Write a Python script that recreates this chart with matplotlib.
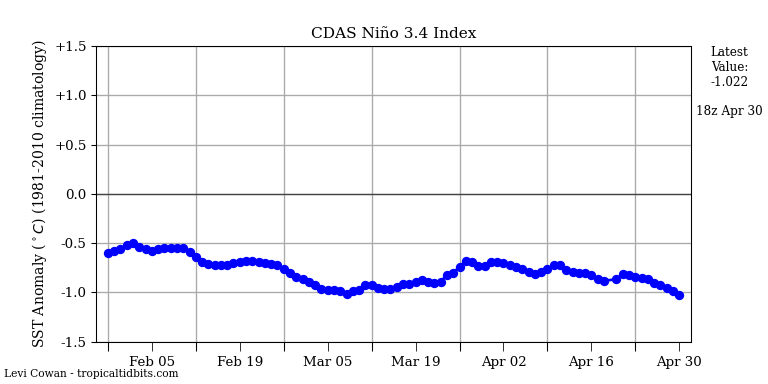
import datetime as dt
import matplotlib
matplotlib.use('Agg')
import matplotlib.pyplot as plt
import matplotlib.dates as mdates
from matplotlib.ticker import FixedLocator, NullFormatter

plt.rcParams['font.family'] = 'DejaVu Serif'

# daily CDAS Nino 3.4 values, Jan 29 - Apr 30 (Apr 19 missing)
start = dt.datetime(2022, 1, 29)
missing_day = 80
values = [
    -0.60, -0.58, -0.56, -0.52, -0.50, -0.54, -0.56, -0.575, -0.56, -0.55,
    -0.55, -0.55, -0.545, -0.59, -0.635, -0.687, -0.71, -0.72, -0.72, -0.72,
    -0.70, -0.69, -0.68, -0.68, -0.69, -0.70, -0.71, -0.72, -0.765, -0.806,
    -0.84, -0.867, -0.89, -0.925, -0.96, -0.976, -0.976, -0.99, -1.017, -0.99,
    -0.97, -0.92, -0.92, -0.95, -0.96, -0.96, -0.94, -0.91, -0.91, -0.89,
    -0.875, -0.89, -0.90, -0.89, -0.82, -0.80, -0.74, -0.68, -0.69, -0.73,
    -0.73, -0.69, -0.69, -0.70, -0.72, -0.74, -0.765, -0.79, -0.81, -0.79,
    -0.765, -0.72, -0.72, -0.77, -0.79, -0.806, -0.80, -0.82, -0.867, -0.88,
    -0.867, -0.81, -0.82, -0.84, -0.85, -0.867, -0.90, -0.92, -0.95, -0.99,
    -1.022,
]
days = [d for d in range(92) if d != missing_day]
dates = [start + dt.timedelta(days=d) for d in days]

ytick_vals = [1.5, 1.0, 0.5, 0.0, -0.5, -1.0, -1.5]
ytick_labels = ['+1.5', '+1.0', '+0.5', '0.0', '-0.5', '-1.0', '-1.5']

fig = plt.figure(figsize=(8, 4), dpi=96)
ax = fig.add_subplot(111)

ax.plot(dates, values, 'o-', color='blue', markersize=6, linewidth=2, zorder=3)
ax.axhline(0, color='#444444', linewidth=1, zorder=2)

ax.set_ylim(-1.5, 1.5)
ax.set_yticks(ytick_vals)
ax.set_yticklabels(ytick_labels)
ax.set_xlim(start - dt.timedelta(days=1.9), start + dt.timedelta(days=92.9))

# unlabeled ticks carry the grid, labeled ticks in between
ax.xaxis.set_major_locator(FixedLocator(
    [mdates.date2num(start + dt.timedelta(days=14 * k)) for k in range(7)]))
ax.xaxis.set_major_formatter(NullFormatter())
ax.xaxis.set_minor_locator(FixedLocator(
    [mdates.date2num(start + dt.timedelta(days=7 + 14 * k)) for k in range(7)]))
ax.xaxis.set_minor_formatter(mdates.DateFormatter('%b %d'))
ax.tick_params(axis='x', which='both', length=7, labelsize=10)
ax.grid(True, which='major', color='#aaaaaa', linewidth=1)

ax.set_title('CDAS Niño 3.4 Index', fontsize=11.5)
ax.set_ylabel('SST Anomaly ($^\\circ C$) (1981-2010 climatology)', fontsize=10.5)

fig.text(0.95, 0.88, 'Latest\nValue:\n-1.022', ha='center', va='top', fontsize=9)
fig.text(0.95, 0.71, '18z Apr 30', ha='center', va='center', fontsize=9)
fig.text(0.005, 0.025, 'Levi Cowan - tropicaltidbits.com', ha='left', va='center', fontsize=8)

fig.savefig('out.png', dpi=96)
